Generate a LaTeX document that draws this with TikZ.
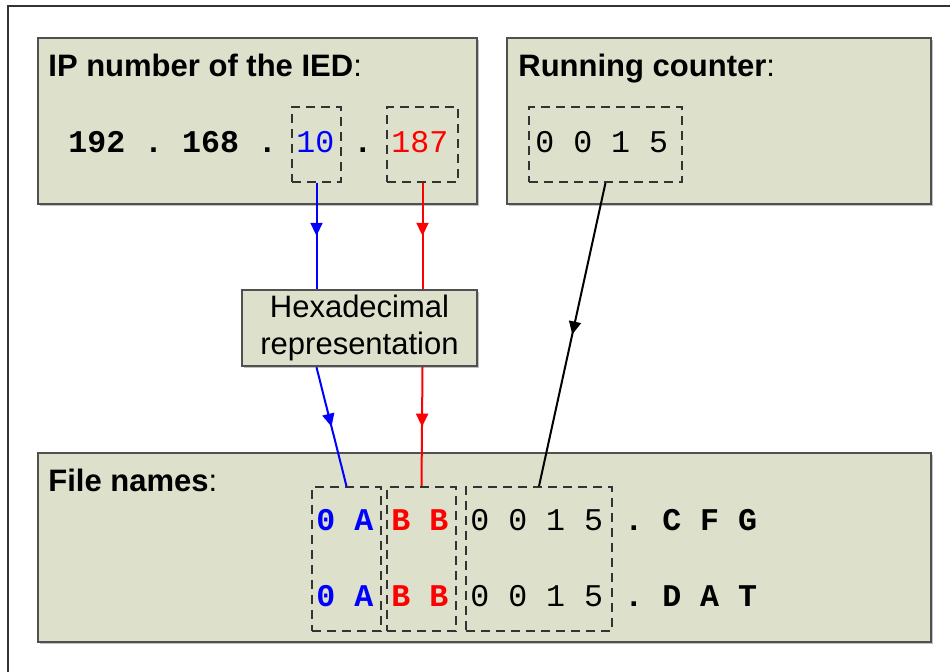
\documentclass[tikz,border=0pt]{standalone}
\usepackage{fontspec}
\setmainfont{Liberation Sans}
\setmonofont{Liberation Mono}
\usetikzlibrary{shadows,decorations.markings,arrows.meta}

\definecolor{boxfill}{RGB}{221,224,203}
\definecolor{boxline}{RGB}{80,80,80}

\tikzset{
  field/.style={draw=boxline, line width=1.2pt, fill=boxfill, inner sep=0pt,
    drop shadow={shadow xshift=1.2pt, shadow yshift=-1.2pt, fill=black!40, opacity=0.6}},
  group/.style={draw=black!80, line width=0.8pt, dash pattern=on 4.5pt off 3pt, inner sep=0pt},
  title/.style={anchor=base west, inner sep=0pt, font=\fontsize{15.5pt}{18pt}\selectfont},
  digits/.style={anchor=base west, inner sep=0pt, font=\fontsize{15.8pt}{18pt}\selectfont\ttfamily},
  bolddigits/.style={digits, font=\fontsize{15.8pt}{18pt}\selectfont\ttfamily\bfseries},
  midarrow/.style={decoration={markings,
      mark=at position 0.5 with {\arrow{Triangle[width=6pt,length=6.5pt]}}},
    postaction={decorate}},
}

\begin{document}
\begin{tikzpicture}[x=0.5pt, y=-0.5pt]
  \useasboundingbox (0,0) rectangle (950,672);

  % outer frame
  \draw[black!80, line width=1.2pt] (8,672) -- (8,6) -- (950,6);

  % grey boxes
  \node[field, minimum width=219.5pt, minimum height=83pt] (ipbox) at (257.5,121) {};
  \node[field, minimum width=212pt, minimum height=83pt] (ctrbox) at (719,121) {};
  \node[field, minimum width=446.5pt, minimum height=94.5pt] (filebox) at (484.5,547.5) {};
  \node[field, minimum width=117.5pt, minimum height=38pt, align=center,
        font=\fontsize{15.5pt}{18.5pt}\selectfont] (hexbox) at (359.5,328)
        {Hexadecimal\\representation};

  % titles
  \node[title] (iptitle) at (48,77) {\textbf{IP number of the IED}:};
  \node[title] (ctrtitle) at (518,77) {\textbf{Running counter}:};
  \node[title] (filetitle) at (48,492) {\textbf{File names}:};

  % dashed groups
  \node[group, minimum width=24.5pt, minimum height=37.5pt] (tenbox) at (316.5,144.5) {};
  \node[group, minimum width=35.5pt, minimum height=37.5pt] (lastbox) at (422.5,144.5) {};
  \node[group, minimum width=76.5pt, minimum height=37.5pt] (cntbox) at (605.5,144.5) {};
  \node[group, minimum width=34.5pt, minimum height=72pt] (hexa) at (346.5,559) {};
  \node[group, minimum width=34.5pt, minimum height=72pt] (hexb) at (421.5,559) {};
  \node[group, minimum width=73pt, minimum height=72pt] (cntc) at (539,559) {};

  % IP number and counter
  \node[bolddigits] (ipfirst) at (68,153) {192 . 168 .};
  \node[digits, text=blue] (ipten) at (296,153) {10};
  \node[bolddigits] (ipdot) at (353,153) {.};
  \node[digits, text=red] (iplast) at (391,153) {187};
  \node[digits] (cntval) at (535,153) {0 0 1 5};

  % file names
  \node[bolddigits, text=blue] (hexaone) at (316,531) {0 A};
  \node[bolddigits, text=red] (hexbone) at (391,531) {B B};
  \node[digits] (cntone) at (470,531) {0 0 1 5};
  \node[bolddigits] (extone) at (624,531) {. C F G};
  \node[bolddigits, text=blue] (hexatwo) at (316,607) {0 A};
  \node[bolddigits, text=red] (hexbtwo) at (391,607) {B B};
  \node[digits] (cnttwo) at (470,607) {0 0 1 5};
  \node[bolddigits] (exttwo) at (624,607) {. D A T};

  % connectors
  \draw[blue, line width=1pt, midarrow] (tenbox.south) -- (tenbox.south |- hexbox.north);
  \draw[blue, line width=1pt, midarrow] (tenbox.south |- hexbox.south) -- (hexa.north);
  \draw[red, line width=1pt, midarrow] (lastbox.south) -- (lastbox.south |- hexbox.north);
  \draw[red, line width=1pt, midarrow] (lastbox.south |- hexbox.south) -- (hexb.north);
  \draw[black, line width=1pt, midarrow] (cntbox.south) -- (cntc.north);
\end{tikzpicture}
\end{document}
